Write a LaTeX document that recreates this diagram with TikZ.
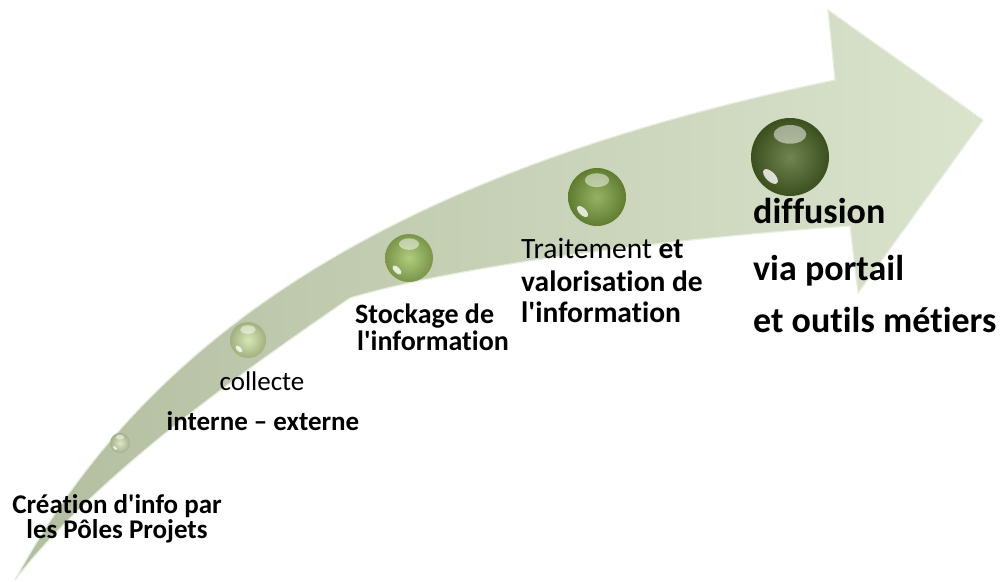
\documentclass[tikz,border=0pt]{standalone}
\usepackage{fontspec}
\setmainfont{Carlito}[Ligatures={NoCommon,NoContextual,NoRequired}]
\definecolor{bandL}{HTML}{B3BEA0}
\definecolor{bandR}{HTML}{DAE4CD}
\definecolor{rim}{HTML}{E6EEDD}
\definecolor{s1}{HTML}{D2E2B4}
\definecolor{s2}{HTML}{CDE2A2}
\definecolor{s3}{HTML}{9CBF5C}
\definecolor{s4}{HTML}{7B9F3E}
\definecolor{s5}{HTML}{4C6626}
\newcommand{\ballnode}[5]{%
  \node[circle,inner sep=0pt,minimum size={2*#4*1pt},shading=radial,
        inner color=#5!80!white,outer color=#5!78!black] (#1) at (#2,#3) {};
  \fill[white,opacity=0.5] (#2,#3-0.58*#4) ellipse [x radius={0.42*#4}, y radius={0.24*#4}];
  \fill[white,opacity=0.8,rotate around={-45:(#2-0.5*#4,#3+0.5*#4)}] (#2-0.5*#4,#3+0.5*#4) ellipse [x radius={0.24*#4}, y radius={0.12*#4}];
}
\begin{document}
\begin{tikzpicture}[x=1pt,y=-1pt,
  lbl/.style={inner sep=0pt,text=black}]
\useasboundingbox (0,0) rectangle (1003,581);
% arrow body
\shade[left color=bandL,right color=bandR,draw=rim,line width=1.2pt]
  (15,580) .. controls (150,330) and (400,170) .. (835,80)
  -- (828,10) -- (983,120) -- (858,293) -- (850,226)
  .. controls (650,240) and (450,268) .. (350,298)
  .. controls (260,360) and (100,470) .. (15,580)
  -- cycle;
% spheres
\ballnode{p1}{120}{443}{10}{s1}
\ballnode{p2}{248}{340}{18}{s2}
\ballnode{p3}{409}{258}{24}{s3}
\ballnode{p4}{597}{197}{29}{s4}
\ballnode{p5}{790}{157}{39}{s5}
% labels
\node[lbl,anchor=base,font=\fontsize{27}{27}\selectfont\bfseries] (c1) at (117,513) {Création d\textquotesingle info par};
\node[lbl,anchor=base,font=\fontsize{27}{27}\selectfont\bfseries] (c2) at (117,538) {les Pôles Projets};
\node[lbl,anchor=base,font=\fontsize{27}{27}\selectfont] (k1) at (262,390) {collecte};
\node[lbl,anchor=base,font=\fontsize{27}{27}\selectfont\bfseries] (k2) at (263,430) {interne – externe};
\node[lbl,anchor=base west,font=\fontsize{28}{28}\selectfont\bfseries] (st1) at (355,323) {Stockage de};
\node[lbl,anchor=base west,font=\fontsize{28}{28}\selectfont\bfseries] (st2) at (357,350) {l\textquotesingle information};
\node[lbl,anchor=base west,font=\fontsize{29.5}{30}\selectfont] (t1) at (521,258) {Traitement \textbf{et}};
\node[lbl,anchor=base west,font=\fontsize{29.5}{30}\selectfont\bfseries] (t2) at (521,291) {valorisation de};
\node[lbl,anchor=base west,font=\fontsize{29.5}{30}\selectfont\bfseries] (t3) at (521,322) {l\textquotesingle information};
\node[lbl,anchor=base west,font=\fontsize{36}{36}\selectfont\bfseries] (d1) at (753,223) {diffusion};
\node[lbl,anchor=base west,font=\fontsize{36}{36}\selectfont\bfseries] (d2) at (753,280) {via portail};
\node[lbl,anchor=base west,font=\fontsize{36}{36}\selectfont\bfseries] (d3) at (753,332) {et outils métiers};
\end{tikzpicture}
\end{document}
